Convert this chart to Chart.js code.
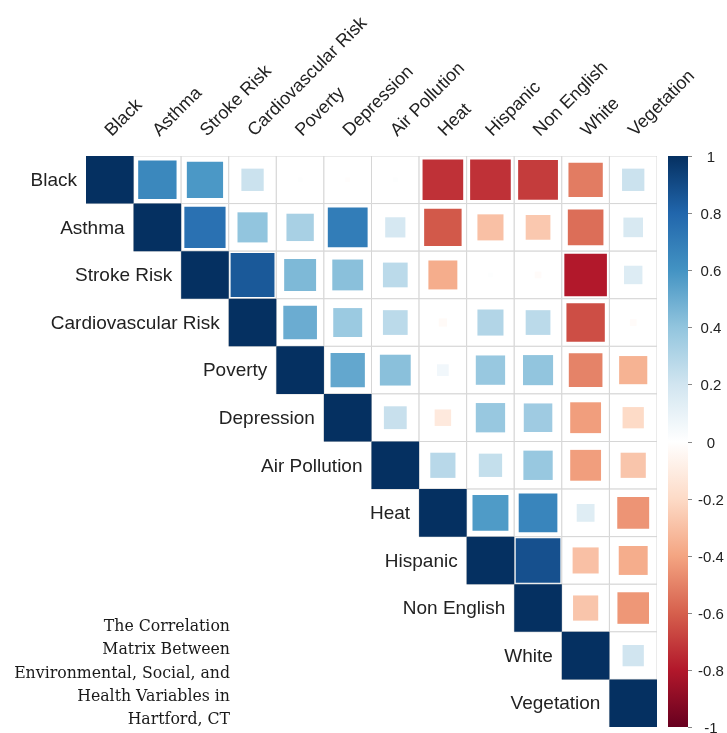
<!DOCTYPE html>
<html>
<head>
<meta charset="utf-8">
<title>Correlation Matrix - Hartford, CT</title>
<script src="https://cdn.jsdelivr.net/npm/chart.js@4.4.1/dist/chart.umd.min.js"></script>
<style>
  html, body { margin: 0; padding: 0; background: #fff; }
  #wrap { width: 727px; height: 733px; }
</style>
</head>
<body>
<div id="wrap"><canvas id="corr-chart" width="727" height="733"></canvas></div>
<script>
var variables = ["Black", "Asthma", "Stroke Risk", "Cardiovascular Risk", "Poverty", "Depression",
    "Air Pollution", "Heat", "Hispanic", "Non English", "White", "Vegetation"];

// upper triangle of the matrix, every row starts on the diagonal
var rowBlack = [1, 0.65, 0.58, 0.22, 0.01, -0.01, 0.01, -0.73, -0.73, -0.70, -0.52, 0.22];
var rowAsthma = [1, 0.75, 0.40, 0.33, 0.70, 0.18, -0.62, -0.30, -0.27, -0.56, 0.17];
var rowStroke = [1, 0.85, 0.45, 0.42, 0.27, -0.37, 0.01, -0.02, -0.80, 0.15];
var rowCardio = [1, 0.50, 0.37, 0.27, -0.03, 0.30, 0.27, -0.65, -0.02];
var rowPoverty = [1, 0.52, 0.42, 0.06, 0.38, 0.40, -0.50, -0.35];
var rowDepression = [1, 0.23, -0.12, 0.38, 0.36, -0.42, -0.20];
var rowAirPollution = [1, 0.28, 0.24, 0.38, -0.42, -0.28];
var rowHeat = [1, 0.57, 0.66, 0.14, -0.45];
var rowHispanic = [1, 0.88, -0.30, -0.37];
var rowNonEnglish = [1, -0.28, -0.44];
var rowWhite = [1, 0.20];
var rowVegetation = [1];

var upperRows = [rowBlack, rowAsthma, rowStroke, rowCardio, rowPoverty, rowDepression,
    rowAirPollution, rowHeat, rowHispanic, rowNonEnglish, rowWhite, rowVegetation];

var legendTicks = [1, 0.8, 0.6, 0.4, 0.2, 0, -0.2, -0.4, -0.6, -0.8, -1];
var captionLines = ["The Correlation", "Matrix Between", "Environmental, Social, and",
    "Health Variables in", "Hartford, CT"];

// RdBu, from -1 to 1
var palette = ["#67001F", "#B2182B", "#D6604D", "#F4A582", "#FDDBC7", "#FFFFFF",
    "#D1E5F0", "#92C5DE", "#4393C3", "#2166AC", "#053061"];

function hexToRgb(h) {
    return [parseInt(h.substr(1, 2), 16), parseInt(h.substr(3, 2), 16), parseInt(h.substr(5, 2), 16)];
}

function corrColor(v) {
    var t = (v + 1) / 2 * (palette.length - 1);
    var i = Math.floor(t);
    if (i >= palette.length - 1) i = palette.length - 2;
    if (i < 0) i = 0;
    var f = t - i;
    var a = hexToRgb(palette[i]), b = hexToRgb(palette[i + 1]);
    var c = [];
    for (var k = 0; k < 3; ++k) c.push(Math.round(a[k] + (b[k] - a[k]) * f));
    return "rgb(" + c.join(",") + ")";
}

var cells = [];
var squares = [];
for (var i = 0; i < upperRows.length; ++i) {
    for (var k = 0; k < upperRows[i].length; ++k) {
        cells.push({x: i + k, y: i});
        squares.push({x: i + k, y: i, v: upperRows[i][k]});
    }
}

function cellSize(chart) {
    var s = chart.scales.x;
    return Math.abs(s.getPixelForValue(1) - s.getPixelForValue(0));
}

var labelsPlugin = {
    id: 'corrLabels',
    afterDraw: function (chart) {
        var ctx = chart.ctx;
        var xs = chart.scales.x, ys = chart.scales.y;
        var area = chart.chartArea;
        ctx.save();
        ctx.fillStyle = "#222";
        ctx.font = '19px "Liberation Sans", Arial, sans-serif';

        // row labels, left of the diagonal cell
        ctx.textAlign = "right";
        ctx.textBaseline = "middle";
        for (var i = 0; i < variables.length; ++i) {
            ctx.fillText(variables[i], xs.getPixelForValue(i - 0.5) - 9, ys.getPixelForValue(i) + 1);
        }

        // column labels, rotated 45 degrees
        ctx.font = '18px "Liberation Sans", Arial, sans-serif';
        ctx.textAlign = "left";
        ctx.textBaseline = "alphabetic";
        for (var j = 0; j < variables.length; ++j) {
            ctx.save();
            ctx.translate(xs.getPixelForValue(j) + 2, ys.getPixelForValue(-0.5) - 19);
            ctx.rotate(-Math.PI / 4);
            ctx.fillText(variables[j], 0, 0);
            ctx.restore();
        }

        // colour legend
        var bx = area.right + 11, bw = 20;
        var top = area.top, bottom = area.bottom;
        var grad = ctx.createLinearGradient(0, bottom, 0, top);
        for (var p = 0; p < palette.length; ++p) {
            grad.addColorStop(p / (palette.length - 1), palette[p]);
        }
        ctx.fillStyle = grad;
        ctx.fillRect(bx, top, bw, bottom - top);
        ctx.strokeStyle = "#888";
        ctx.lineWidth = 1;
        ctx.font = '15px "Liberation Sans", Arial, sans-serif';
        ctx.fillStyle = "#222";
        ctx.textAlign = "center";
        ctx.textBaseline = "middle";
        for (var t = 0; t < legendTicks.length; ++t) {
            var ty = Math.round(top + (1 - legendTicks[t]) / 2 * (bottom - top)) + 0.5;
            ctx.beginPath();
            ctx.moveTo(bx + bw, ty);
            ctx.lineTo(bx + bw + 4, ty);
            ctx.stroke();
            ctx.fillText(String(legendTicks[t]), bx + bw + 23, ty + 1);
        }

        // caption
        ctx.fillStyle = "#1a1a1a";
        ctx.textAlign = "right";
        ctx.textBaseline = "alphabetic";
        var size = 16;
        ctx.font = size + 'px "DejaVu Serif", serif';
        var w = ctx.measureText(captionLines[2]).width;
        size = size * 216 / w;
        ctx.font = size.toFixed(2) + 'px "DejaVu Serif", serif';
        for (var c = 0; c < captionLines.length; ++c) {
            ctx.fillText(captionLines[c], 230, 631 + c * 23.3);
        }
        ctx.restore();
    }
};

new Chart(document.getElementById("corr-chart"), {
    type: 'scatter',
    data: {
        datasets: [{
            label: "cells",
            data: cells,
            order: 2,
            pointStyle: 'rect',
            pointRadius: function (ctx) {
                return cellSize(ctx.chart) / 2 * Math.SQRT2;
            },
            backgroundColor: "#ffffff",
            borderColor: "#d6d6d6",
            borderWidth: 1
        }, {
            label: "Correlation",
            data: squares,
            order: 1,
            pointStyle: 'rect',
            pointRadius: function (ctx) {
                if (!ctx.raw) return 0;
                return cellSize(ctx.chart) / 2 * Math.sqrt(Math.abs(ctx.raw.v)) * Math.SQRT2;
            },
            backgroundColor: function (ctx) {
                return ctx.raw ? corrColor(ctx.raw.v) : "#fff";
            },
            borderWidth: 0
        }]
    },
    options: {
        responsive: false,
        animation: false,
        events: [],
        layout: {padding: {left: 86, right: 70, top: 156, bottom: 6}},
        scales: {
            x: {type: 'linear', min: -0.5, max: 11.5, display: false},
            y: {type: 'linear', min: -0.5, max: 11.5, reverse: true, display: false}
        },
        plugins: {
            legend: {display: false},
            tooltip: {enabled: false}
        }
    },
    plugins: [labelsPlugin]
});
</script>
</body>
</html>
